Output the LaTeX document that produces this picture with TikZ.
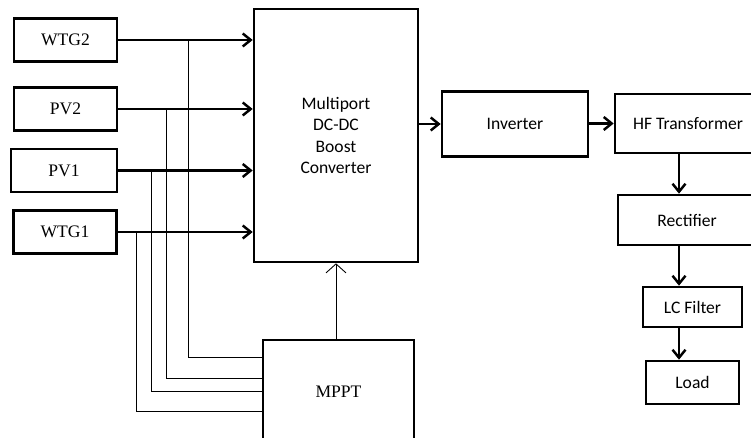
\documentclass[tikz,border=0pt]{standalone}
\usepackage{fontspec}
\setmainfont{Liberation Serif}
\newfontfamily\calibri{Carlito}
\usetikzlibrary{arrows.meta}

\begin{document}
\begin{tikzpicture}[blk/.style={draw, line width=1.5pt, minimum width=2.06cm, minimum height=0.86cm, inner sep=0pt}, cbox/.style={blk, font=\calibri, align=center}, flow/.style={-{Straight Barb[length=1.6mm, width=2.6mm]}, line width=1.4pt}, tap/.style={line width=0.5pt}, ctrl/.style={-{Straight Barb[length=1.8mm, width=4mm]}, line width=0.5pt}]
\useasboundingbox (0,0) rectangle (15.02,8.76);
\clip (0,0) rectangle (15.02,8.76);
\node[blk] (wtg2) at (1.31,7.96) {WTG2};
\node[blk] (pv2) at (1.31,6.58) {PV2};
\node[blk, minimum width=2.12cm] (pv1) at (1.28,5.35) {PV1};
\node[blk] (wtg1) at (1.30,4.12) {WTG1};
\node[cbox, minimum width=3.28cm, minimum height=5.06cm] (conv) at (6.72,6.05) {Multiport\\DC-DC\\Boost\\Converter};
\node[cbox, minimum width=2.92cm, minimum height=1.30cm] (inv) at (10.30,6.28) {Inverter};
\node[cbox, minimum width=2.92cm, minimum height=1.18cm] (hf) at (13.76,6.29) {HF Transformer};
\node[cbox, minimum width=2.76cm, minimum height=1.0cm] (rect) at (13.74,4.36) {Rectifier};
\node[cbox, minimum width=1.98cm, minimum height=0.80cm] (lc) at (13.85,2.62) {LC Filter};
\node[cbox, minimum width=1.86cm, minimum height=0.86cm] (load) at (13.85,1.11) {Load};
\node[blk, minimum width=3.02cm, minimum height=2.08cm] (mppt) at (6.77,0.92) {MPPT};
\coordinate (spine) at (13.58,0);
% sources into the converter, sensed by the MPPT
\foreach \src/\x/\y in {wtg2/3.76/1.62, pv2/3.32/1.20, pv1/3.02/0.94, wtg1/2.72/0.54}{\draw[tap] (\src.east -| \x,0) |- (mppt.west |- 0,\y);\draw[flow] (\src.east) -- (\src.east -| conv.west);}
\draw[ctrl] (mppt.north -| conv.south) -- (conv.south);
\draw[flow] (conv.east |- inv.west) -- (inv.west);
\draw[flow] (inv.east |- hf.west) -- (hf.west);
\draw[flow] (hf.south -| spine) -- (rect.north -| spine);
\draw[flow] (rect.south -| spine) -- (lc.north -| spine);
\draw[flow] (lc.south -| spine) -- (load.north -| spine);
\end{tikzpicture}
\end{document}
